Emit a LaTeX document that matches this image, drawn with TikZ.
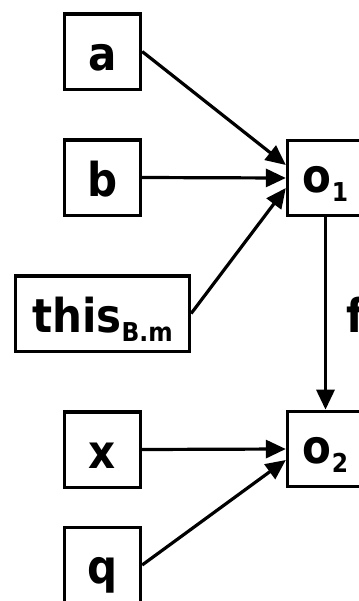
\documentclass[tikz,border=0pt]{standalone}
\usepackage{fontspec}
\setmainfont{DejaVu Sans Condensed}
\usetikzlibrary{arrows.meta,calc}

% subscript set lower and smaller than the main label
\newcommand\lowsub[1]{\raisebox{-6.75pt}{\fontsize{19.5pt}{19.5pt}\selectfont #1}}

\tikzset{
  box/.style={draw, line width=2.5pt, inner sep=0pt,
    minimum width=57pt, minimum height=56.5pt,
    font=\fontsize{35pt}{40pt}\selectfont\bfseries,
    text height=27.75pt, text depth=0pt},
  objbox/.style={box, text height=21pt},
  link/.style={line width=2.4pt, -{Triangle[length=15pt,width=13.5pt]}},
  lbl/.style={inner sep=0pt, anchor=base west,
    font=\fontsize{35pt}{40pt}\selectfont\bfseries}
}

\begin{document}
\begin{tikzpicture}[x=0.75pt,y=-0.75pt]
  \useasboundingbox (0,0) rectangle (359,601);
  \clip (0,0) rectangle (359,601);

  % source variables
  \node[box] (a)    at (102.5,51.5)  {a};
  \node[box] (b)    at (102.5,177.5) {b};
  \node[box, minimum width=130.5pt] (this) at (102.5,313.5) {this\lowsub{B.m}};
  \node[box] (x)    at (102.5,449.5) {x};
  \node[box] (q)    at (102.5,565)   {q};

  % objects
  \node[objbox] (o1) at (325.5,178) {o\lowsub{1}};
  \node[objbox] (o2) at (325.5,449) {o\lowsub{2}};

  % field edge label
  \node[lbl] (flbl) at (346,332) {f};

  % points-to edges
  \draw[link] (a.east)    -- ([yshift=9.75pt]o1.west);
  \draw[link] (b.east)    -- (o1.west);
  \draw[link] (this.east) -- ([yshift=-7.5pt]o1.west);
  \draw[link] (x.east)    -- (o2.west);
  \draw[link] (q.east)    -- ([yshift=-8.25pt]o2.west);
  \draw[link] (o1.south)  -- (o2.north);
\end{tikzpicture}
\end{document}
